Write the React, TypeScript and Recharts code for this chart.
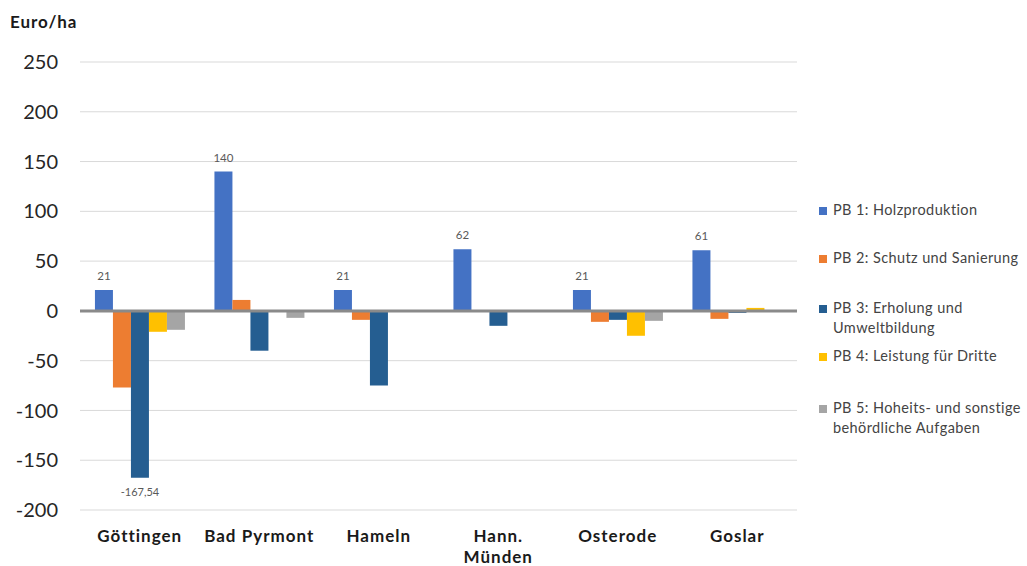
import React from 'react';
import {
  BarChart,
  Bar,
  XAxis,
  YAxis,
  CartesianGrid,
  ReferenceLine,
  LabelList,
} from 'recharts';

// Cost result per product area (Euro per hectare) for each forestry office
const offices = ['Göttingen', 'Bad Pyrmont', 'Hameln', 'Hann. Münden', 'Osterode', 'Goslar'];
const pb1Holz = [21, 140, 21, 62, 21, 61];
const pb2Schutz = [-77, 11, -9, 0, -11, -8];
const pb3Erholung = [-167.54, -40, -75, -15, -9, -2];
const pb4Dritte = [-21, 0, 0, 0, -25, 3];
const pb5Hoheit = [-19, -7, -1, 0, -10, 0];

const yTicks = [-200, -150, -100, -50, 0, 50, 100, 150, 200, 250];

const seriesNames = [
  'PB 1: Holzproduktion',
  'PB 2: Schutz und Sanierung',
  'PB 3: Erholung und Umweltbildung',
  'PB 4: Leistung für Dritte',
  'PB 5: Hoheits- und sonstige behördliche Aufgaben',
];
// legend text split the way it wraps in the side panel
const legendLines = [
  ['PB 1: Holzproduktion'],
  ['PB 2: Schutz und Sanierung'],
  ['PB 3: Erholung und', 'Umweltbildung'],
  ['PB 4: Leistung für Dritte'],
  ['PB 5: Hoheits- und sonstige', 'behördliche Aufgaben'],
];

const colors = ['#4472C4', '#ED7D31', '#255E91', '#FFC000', '#A5A5A5'];
const keys = ['pb1', 'pb2', 'pb3', 'pb4', 'pb5'];

const data = offices.map((name, i) => ({
  name,
  pb1: pb1Holz[i],
  pb2: pb2Schutz[i],
  pb3: pb3Erholung[i],
  pb4: pb4Dritte[i],
  pb5: pb5Hoheit[i],
}));

const FONT = 'Lato, "Open Sans", sans-serif';

const fmt = (v: number) => String(v).replace('.', ',');

const CategoryTick = (props: any) => {
  const { x, y, payload } = props;
  const value: string = payload.value;
  const lines = value === 'Hann. Münden' ? ['Hann.', 'Münden'] : [value];
  return (
    <text
      x={x}
      y={y}
      textAnchor="middle"
      fontFamily={FONT}
      fontWeight={700}
      fontSize={17}
      letterSpacing={1}
      fill="#1a1a1a"
    >
      {lines.map((l, i) => (
        <tspan key={i} x={x} dy={i === 0 ? 24 : 21}>
          {l}
        </tspan>
      ))}
    </text>
  );
};

const TopLabel = (props: any) => {
  const { x, y, width, height, value } = props;
  const top = Math.min(y, y + height);
  return (
    <text
      x={x + width / 2}
      y={top - 10}
      textAnchor="middle"
      fontFamily={FONT}
      fontSize={11.5}
      fill="#595959"
    >
      {fmt(value)}
    </text>
  );
};

const MinLabel = (props: any) => {
  const { x, y, width, height, value, index } = props;
  if (index !== 0) return null;
  const bottom = Math.max(y, y + height);
  return (
    <text
      x={x + width / 2}
      y={bottom + 18}
      textAnchor="middle"
      fontFamily={FONT}
      fontSize={11}
      fill="#595959"
    >
      {fmt(value)}
    </text>
  );
};

const rowGaps = [0, 28, 30, 8, 32];

const SideLegend = () => (
  <div
    style={{
      position: 'absolute',
      left: 819,
      top: 200,
      width: 208,
      fontFamily: FONT,
      fontSize: 14.5,
      letterSpacing: 0.4,
      color: '#444',
      lineHeight: '20px',
    }}
  >
    {legendLines.map((lines, i) => (
      <div key={seriesNames[i]} style={{ display: 'flex', marginTop: rowGaps[i] }}>
        <span
          style={{
            width: 8,
            height: 8,
            background: colors[i],
            marginTop: 7,
            marginRight: 6,
            flex: 'none',
          }}
        />
        <div style={{ whiteSpace: 'nowrap' }}>
          {lines.map((l) => (
            <div key={l}>{l}</div>
          ))}
        </div>
      </div>
    ))}
  </div>
);

export default function App() {
  return (
    <div style={{ position: 'absolute', left: 0, top: 0, width: 1027, height: 566, background: '#fff' }}>
      <div
        style={{
          position: 'absolute',
          left: 10,
          top: 11,
          fontFamily: FONT,
          fontWeight: 700,
          fontSize: 17,
          letterSpacing: 0.9,
          color: '#1a1a1a',
        }}
      >
        Euro/ha
      </div>
      <BarChart
        width={1027}
        height={566}
        data={data}
        margin={{ top: 62, right: 230, bottom: 0, left: 0 }}
        barCategoryGap="12.5%"
        barGap={0}
      >
        <CartesianGrid vertical={false} stroke="#d9d9d9" />
        <XAxis
          dataKey="name"
          height={56}
          axisLine={false}
          tickLine={false}
          interval={0}
          tick={<CategoryTick />}
        />
        <YAxis
          width={80}
          domain={[-200, 250]}
          ticks={yTicks}
          interval={0}
          axisLine={false}
          tickLine={false}
          tickSize={0}
          tickMargin={22}
          tick={{ fontFamily: FONT, fontSize: 20, fill: '#262626' }}
        />
        {keys.map((k, i) => (
          <Bar key={k} dataKey={k} name={seriesNames[i]} fill={colors[i]} isAnimationActive={false}>
            {i === 0 && <LabelList dataKey={k} content={<TopLabel />} />}
            {i === 2 && <LabelList dataKey={k} content={<MinLabel />} />}
          </Bar>
        ))}
        <ReferenceLine y={0} stroke="#8a8a8a" strokeWidth={3} />
      </BarChart>
      <SideLegend />
    </div>
  );
}
